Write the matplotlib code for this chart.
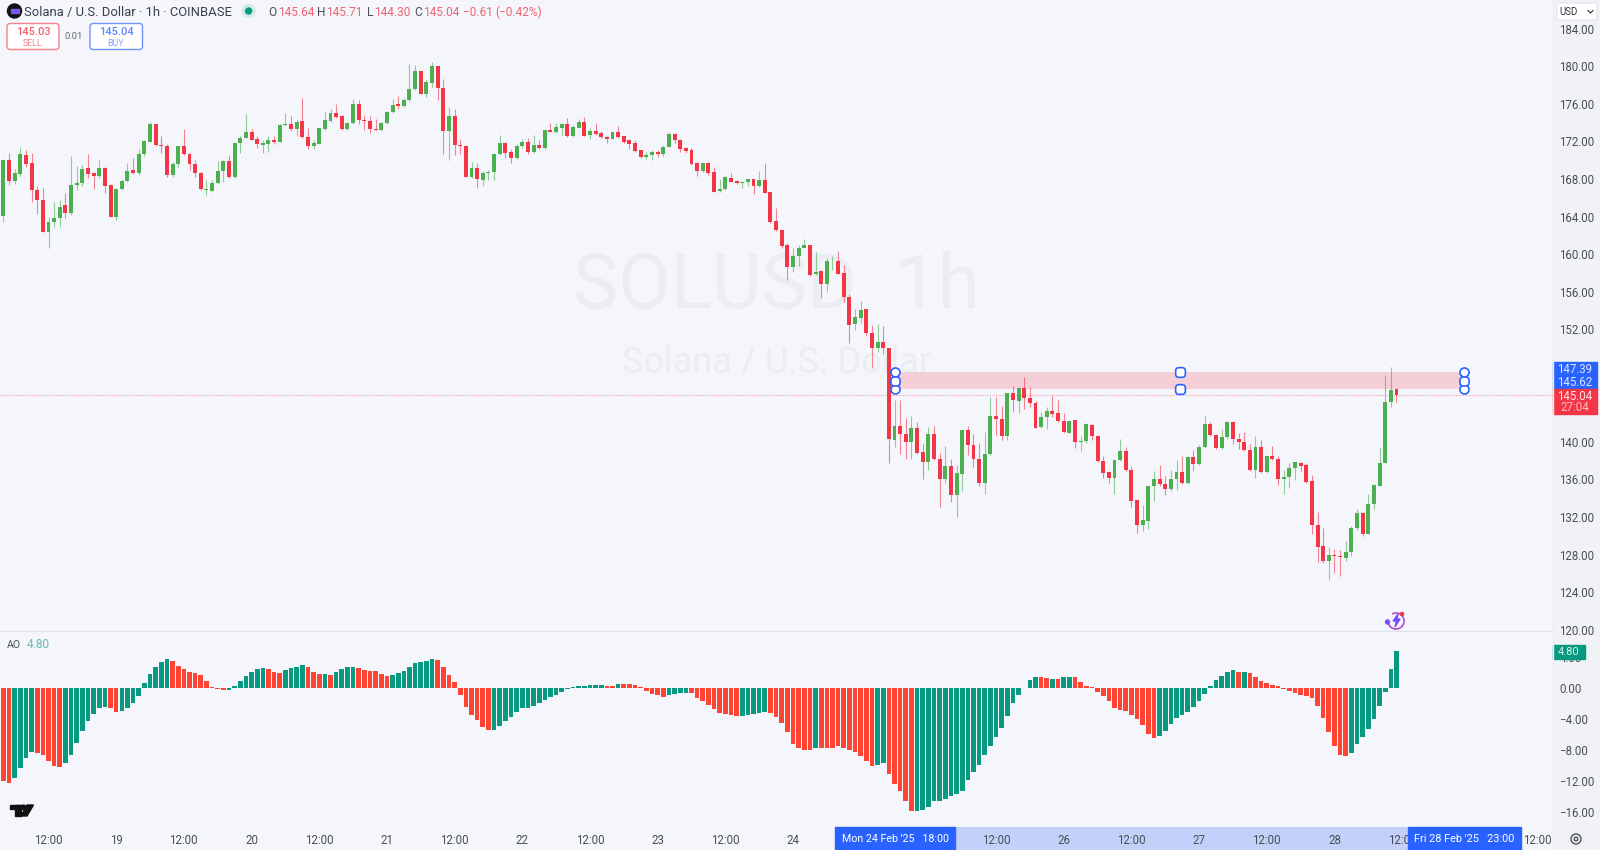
import matplotlib
matplotlib.use("Agg")
import matplotlib.pyplot as plt
from matplotlib.patches import FancyBboxPatch, Rectangle, Circle, Polygon, Arc, BoxStyle

plt.rcParams["font.family"] = ["Roboto", "DejaVu Sans"]

# ---- data -------------------------------------------------------------
opens = [
 164.1,170.0,167.8,168.5,170.6,169.7,166.8,165.8,162.3,163.4,
 163.8,165.2,164.4,167.4,167.6,169.2,168.6,168.3,169.2,167.4,
 163.9,166.9,167.8,169.0,168.6,170.7,171.9,173.9,171.6,171.5,
 168.4,169.6,171.5,170.7,169.6,168.6,166.8,166.7,167.6,168.9,
 169.9,168.2,171.8,172.4,173.0,172.3,171.6,171.7,172.2,171.9,
 173.8,173.9,173.3,174.2,172.5,171.5,171.7,173.3,174.2,175.0,
 174.7,173.3,174.0,176.0,174.3,174.2,173.3,173.2,174.0,175.1,
 176.0,175.8,176.4,177.6,179.5,177.1,178.2,180.0,177.7,173.1,
 174.7,171.6,171.5,168.2,169.2,167.9,168.6,168.7,170.7,171.8,
 170.9,170.2,171.5,171.9,170.9,171.6,171.3,173.2,173.0,173.4,
 173.85,172.6,173.4,174.1,172.7,173.15,172.85,172.5,172.3,172.95,
 172.55,172.1,171.8,171.1,170.3,170.5,170.85,170.7,171.45,172.8,
 172.15,171.3,171.1,169.65,168.8,169.65,168.75,166.7,166.9,168.1,
 167.8,167.6,167.65,167.95,167.2,167.85,166.65,163.55,162.6,160.95,
 158.65,159.75,160.7,160.95,157.85,158.2,156.8,159.25,159.25,157.95,
 155.45,152.55,153.2,154.1,151.6,149.95,150.65,149.95,140.25,141.7,
 140.85,139.95,141.45,138.9,137.9,140.85,138.15,136.1,137.45,134.35,
 136.6,141.25,139.7,138.15,135.65,138.7,142.8,142.45,140.65,145.2,
 144.4,145.7,144.7,144.1,141.55,142.6,143.25,143.05,142.25,140.9,
 142.3,139.95,140.05,141.8,140.65,138.0,136.75,136.2,138.1,139.0,
 137.0,133.8,131.1,131.6,135.25,136.0,135.5,135.0,136.0,136.75,
 135.6,138.35,137.6,139.45,141.9,140.75,139.3,140.5,142.15,140.3,
 140.0,139.15,137.0,139.5,136.75,138.55,138.15,136.0,136.3,137.2,
 137.75,137.5,135.8,131.15,128.9,127.3,127.95,127.9,127.6,128.3,
 130.8,132.4,130.2,133.35,135.35,137.75,144.2,145.64]
highs = [
 170.1,170.8,169.1,171.4,171.1,170.8,167.2,167.0,164.0,165.5,
 165.8,166.5,170.4,169.4,169.5,170.7,168.7,170.0,169.3,167.5,
 167.0,168.0,169.7,170.2,171.2,172.2,174.1,173.9,172.6,171.7,
 169.8,171.5,173.3,170.8,170.0,168.7,167.9,167.9,169.9,170.0,
 170.6,171.8,172.6,174.9,173.3,172.6,172.2,172.6,172.6,173.9,
 175.0,174.7,174.3,176.6,173.4,172.2,173.4,175.1,175.4,176.0,
 174.8,174.1,176.5,176.4,174.8,174.7,174.4,174.1,175.2,176.5,
 176.8,176.6,180.2,180.1,179.5,178.5,180.5,180.0,178.6,175.7,
 175.5,172.3,171.6,169.8,169.7,168.9,169.0,170.8,172.7,171.9,
 171.2,171.7,172.3,172.4,172.7,172.2,173.2,174.0,174.0,174.0,
 174.45,173.75,174.35,174.55,173.4,174.0,173.15,172.6,173.0,173.6,
 172.6,172.2,172.1,171.1,170.9,171.1,171.1,171.6,173.0,172.85,
 172.3,171.4,171.3,169.85,169.85,169.85,169.3,167.95,168.3,168.65,
 167.9,167.7,168.05,168.05,168.8,169.65,166.65,164.95,162.6,161.15,
 160.6,161.0,161.65,160.95,160.25,158.3,159.55,159.8,160.35,158.85,
 155.7,154.1,155.0,154.2,152.45,152.55,152.35,150.0,144.45,144.45,
 142.5,142.75,142.15,139.9,141.6,141.7,138.8,139.55,138.15,137.55,
 141.25,141.7,140.85,139.85,141.0,144.75,144.75,143.85,145.25,145.95,
 145.7,146.9,145.8,144.4,143.2,143.75,144.9,144.45,143.05,142.35,
 142.35,140.6,142.05,141.9,140.75,138.45,136.85,138.1,140.3,139.5,
 137.45,133.8,133.3,135.3,136.85,137.55,136.4,137.0,138.1,138.5,
 138.5,139.15,139.7,142.75,142.15,140.85,141.4,142.25,142.25,140.9,
 141.1,139.75,140.6,140.15,138.6,139.55,138.45,137.0,137.8,137.9,
 137.85,137.7,136.5,132.5,130.85,128.85,128.55,128.5,129.4,131.0,
 132.9,132.5,134.5,135.5,139.5,147.1,147.95,145.71]
lows = [
 163.4,167.4,167.5,168.3,169.3,165.5,164.3,162.3,160.7,162.9,
 162.9,163.8,164.2,166.8,167.2,168.1,166.9,168.1,166.5,163.9,
 163.6,166.8,167.7,168.5,168.4,170.4,171.9,171.5,170.8,168.2,
 168.2,169.3,170.5,169.0,168.2,166.8,166.3,166.6,167.5,167.7,
 168.1,168.1,170.8,172.4,172.2,171.3,170.8,170.9,171.7,171.9,
 173.6,173.1,172.6,172.4,171.2,171.2,171.7,173.2,174.1,174.5,
 173.2,173.2,173.9,173.9,173.2,172.9,173.2,173.1,173.9,175.0,
 175.4,175.7,176.3,177.5,177.0,176.7,177.8,176.4,170.7,170.0,
 170.6,170.7,168.2,168.1,167.0,167.2,167.9,167.9,170.6,170.2,
 169.7,170.1,171.3,170.7,170.8,171.2,171.2,173.0,172.9,172.7,
 172.5,172.5,173.4,172.55,172.25,172.7,172.4,171.8,172.25,172.4,
 171.8,171.2,170.85,170.2,170.1,170.0,170.3,170.4,171.4,171.8,
 170.85,170.75,169.5,168.35,168.75,168.4,166.65,166.65,166.8,167.65,
 167.5,167.0,167.25,166.35,167.1,166.55,163.3,162.5,160.6,157.25,
 158.05,158.75,160.6,157.65,157.75,155.3,156.0,158.3,157.85,154.95,
 150.55,151.9,152.6,151.3,147.9,149.6,149.4,137.8,139.5,138.7,
 138.15,138.15,138.7,136.0,137.0,138.1,133.05,135.6,133.55,131.95,
 134.8,138.6,137.35,135.25,134.45,138.6,140.75,140.15,140.25,143.2,
 143.1,143.5,143.7,141.45,141.45,141.35,142.7,142.15,140.9,140.9,
 139.4,139.0,139.9,140.2,137.9,136.2,135.65,134.5,138.0,136.9,
 133.1,130.35,130.55,130.7,133.75,135.3,134.3,134.8,134.9,135.5,
 135.5,136.85,137.5,139.3,140.6,139.2,139.2,140.3,139.8,139.2,
 139.0,136.95,136.2,136.65,136.7,138.05,135.4,134.5,135.05,135.9,
 136.85,135.65,130.2,127.2,127.05,125.3,126.0,125.7,127.35,127.85,
 130.6,130.0,130.2,132.8,135.35,137.7,143.7,144.30]
closes = [
 170.0,167.8,168.6,170.7,169.6,166.8,165.8,162.3,163.4,163.8,
 165.0,164.4,167.4,167.6,169.1,168.5,168.3,169.2,167.3,163.9,
 166.9,167.8,168.9,168.6,170.7,172.0,173.9,171.6,171.5,168.4,
 169.6,171.5,170.7,169.6,168.6,166.9,166.9,167.6,168.9,169.9,
 168.2,171.8,172.4,173.0,172.2,171.7,171.8,172.2,171.9,173.8,
 173.9,173.3,174.1,172.5,171.5,171.8,173.4,174.3,175.0,174.6,
 173.3,174.0,176.0,174.3,174.2,173.3,173.2,174.0,175.1,175.9,
 175.8,176.4,177.6,179.5,177.1,178.3,180.0,177.7,173.1,174.7,
 171.6,171.5,168.2,169.2,168.0,168.6,168.7,170.7,171.8,170.8,
 170.2,171.5,171.9,170.9,171.6,171.3,173.2,173.0,173.5,173.85,
 172.6,173.5,174.1,172.6,173.15,172.8,172.5,172.3,172.95,172.5,
 171.9,171.7,171.0,170.3,170.55,170.85,170.7,171.45,172.8,172.1,
 171.2,171.0,169.55,168.8,169.65,168.6,166.65,166.95,168.2,167.7,
 167.6,167.7,167.95,167.2,167.85,166.55,163.45,162.55,160.85,158.65,
 159.8,160.7,160.95,157.8,158.1,156.8,159.25,159.3,157.9,155.45,
 152.5,153.25,154.05,151.55,149.95,150.65,149.95,140.27,141.7,140.85,
 139.95,141.45,138.8,137.9,140.85,138.15,136.1,137.45,134.35,136.65,
 141.25,139.7,138.15,135.65,138.7,142.8,142.45,140.65,145.25,144.45,
 145.7,144.7,144.1,141.5,142.6,143.25,143.0,142.25,141.0,142.25,
 139.95,140.1,141.9,140.65,138.0,136.65,136.2,138.1,139.0,137.0,
 133.75,131.1,131.7,135.25,136.0,135.5,135.0,136.0,136.75,135.6,
 138.35,137.6,139.5,141.9,140.7,139.3,140.5,142.15,140.3,140.0,
 139.1,137.0,139.5,136.75,138.55,138.15,136.0,136.3,137.2,137.85,
 137.45,135.75,131.1,128.85,127.3,127.95,127.8,127.7,128.3,130.85,
 132.4,130.15,133.4,135.4,137.75,144.2,145.55,145.04]

ao_values = [
 -12.0,-12.26,-11.6,-10.3,-8.95,-8.17,-8.4,-8.6,-9.4,-10.0,
 -10.1,-9.7,-8.65,-7.1,-5.5,-4.2,-3.3,-2.6,-2.4,-2.6,
 -3.1,-2.9,-2.6,-1.95,-1.0,0.65,1.8,2.8,3.4,3.75,
 3.5,2.9,2.5,2.1,1.95,1.7,1.0,0.2,-0.1,-0.2,
 -0.2,0.35,1.0,1.6,2.1,2.5,2.6,2.5,2.05,2.0,
 2.3,2.6,2.8,3.0,2.7,2.05,1.8,1.8,1.7,2.05,
 2.45,2.7,2.8,2.65,2.4,2.2,2.2,1.85,1.6,1.7,
 1.95,2.25,2.7,3.2,3.45,3.5,3.8,3.65,2.8,1.7,
 0.8,-0.85,-2.45,-3.45,-4.1,-4.95,-5.4,-5.35,-4.85,-4.2,
 -3.65,-3.0,-2.6,-2.5,-2.3,-1.95,-1.5,-1.15,-0.85,-0.45,
 -0.1,0.1,0.25,0.35,0.4,0.45,0.45,0.35,0.35,0.6,
 0.6,0.6,0.45,0.15,-0.4,-0.75,-0.9,-1.15,-0.9,-0.75,
 -0.65,-0.55,-0.65,-1.2,-1.7,-2.15,-2.7,-3.2,-3.35,-3.45,
 -3.55,-3.55,-3.4,-3.3,-3.2,-3.1,-3.15,-3.65,-4.45,-5.7,
 -7.2,-7.75,-7.95,-7.95,-7.65,-7.65,-7.65,-7.75,-7.5,-7.65,
 -7.95,-8.25,-8.7,-9.35,-10.0,-9.9,-9.6,-11.0,-12.35,-13.25,
 -14.6,-15.9,-15.8,-15.7,-15.35,-14.6,-14.6,-14.3,-13.85,-13.7,
 -13.25,-11.85,-10.85,-9.9,-8.65,-7.5,-6.25,-5.15,-3.55,-1.85,
 -0.85,0.05,1.05,1.45,1.4,1.3,1.25,1.25,1.4,1.45,
 1.4,0.75,0.3,0.1,-0.45,-1.05,-1.6,-2.5,-2.8,-2.95,
 -3.4,-4.0,-4.8,-5.95,-6.45,-6.15,-5.45,-4.65,-3.9,-3.45,
 -3.1,-2.45,-1.7,-0.75,0.3,1.05,1.6,2.15,2.3,2.05,
 2.15,2.0,1.4,0.95,0.7,0.4,0.3,-0.05,-0.3,-0.55,
 -0.9,-1.05,-1.2,-2.35,-3.8,-5.7,-7.5,-8.6,-8.7,-8.4,
 -7.2,-6.3,-5.2,-4.0,-2.35,-0.45,2.45,4.80]

# runs of falling (R) / rising (G) AO bars, in bar order
ao_runs = [("R",2),("G",4),("R",5),("G",8),("R",2),("G",9),("R",10),("G",7),("R",3),
           ("G",4),("R",3),("G",1),("R",1),("G",4),("R",6),("G",8),("R",10),("G",20),
           ("R",2),("G",1),("R",8),("G",4),("R",9),("G",5),("R",8),("G",1),("R",10),
           ("G",2),("R",5),("G",22),("R",2),("G",1),("R",1),("G",2),("R",15),("G",14),
           ("R",1),("G",1),("R",18),("G",9)]

price_ticks = [120,124,128,132,136,140,152,156,160,164,168,172,176,180,184]
ao_ticks = [4, 0, -4, -8, -12, -16]
time_ticks = [8, 20, 32, 44, 56, 68, 80, 92, 104, 116, 128, 140,
              176, 188, 200, 212, 224, 236, 248, 272]
time_labels = ["12:00", "19", "12:00", "20", "12:00", "21", "12:00", "22", "12:00", "23",
               "12:00", "24", "12:00", "26", "12:00", "27", "12:00", "28",
               "12:00", "12:00"]
zone_top, zone_bottom = 147.39, 145.62
zone_start, zone_end = 158, 259
last_price = 145.04

assert len(opens) == len(highs) == len(lows) == len(closes) == len(ao_values) == 248
ao_dirs = [d for d, n in ao_runs for _ in range(n)]
assert len(ao_dirs) == 248

# ---- style ------------------------------------------------------------
BG = "#F5F6FC"
PANEL = "#F1F2F6"
UP = "#4CAF50"
DOWN = "#F23645"
AO_UP = "#089981"
AO_DOWN = "#FF4433"
BLUE = "#2962FF"
TXT = "#4A4E59"

W, H = 1600, 850
RIGHT, PANE, STRIP = 1553, 631, 827

fig = plt.figure(figsize=(16, 8.5), dpi=100, facecolor=PANEL)

def make_axes(top, bottom, z):
    ax = fig.add_axes([0, 1 - bottom / H, RIGHT / W, (bottom - top) / H], facecolor=BG, zorder=z)
    for s in ax.spines.values():
        s.set_visible(False)
    ax.set_xlim(-0.6, 274.75)
    return ax

ax = make_axes(0, PANE, 2)
ax_ao = make_axes(PANE, STRIP, 3)
ax_strip = make_axes(STRIP, H, 1)

# ---- price pane -------------------------------------------------------
ax.set_ylim(119.86, 187.06)
ax.text(0.5, 0.545, "SOLUSD  1h", transform=ax.transAxes, ha="center", va="center",
        fontsize=55, color="#ECEDF3", zorder=0)
ax.text(0.5, 0.4258, "Solana / U.S. Dollar", transform=ax.transAxes, ha="center", va="center",
        fontsize=26, color="#ECEDF3", zorder=0)

idx = list(range(len(opens)))
colors = [UP if c >= o else DOWN for o, c in zip(opens, closes)]
ax.vlines(idx, lows, highs, colors=colors, linewidth=0.8, alpha=0.6, zorder=2)
ax.bar(idx, [abs(c - o) for o, c in zip(opens, closes)],
       bottom=[min(o, c) for o, c in zip(opens, closes)],
       width=0.7, color=colors, linewidth=0, zorder=3)

ax.axhline(last_price, color="#F8A0A8", linewidth=0.8, linestyle=(0, (1, 1)), zorder=1)
ax.add_patch(Rectangle((zone_start, zone_bottom), zone_end - zone_start, zone_top - zone_bottom,
                       facecolor=DOWN, alpha=0.2, edgecolor="none", zorder=4))

zone_mid = (zone_top + zone_bottom) / 2
zone_center = (zone_start + zone_end) / 2 + 0.2
round_sq = BoxStyle("Round", pad=0, rounding_size=0.35)(-0.5, -0.5, 1, 1, 1)
for xh in (zone_start, zone_end):
    ax.plot([xh, xh], [zone_top, zone_bottom], ls="none", marker="o", ms=6.5, mfc="white",
            mec=BLUE, mew=1.2, zorder=6)
    ax.plot([xh], [zone_mid], ls="none", marker=round_sq, ms=6.5, mfc="white", mec=BLUE, mew=1.2, zorder=6)
ax.plot([zone_center, zone_center], [zone_top, zone_bottom], ls="none", marker=round_sq, ms=7,
        mfc="white", mec=BLUE, mew=1.2, zorder=6)

ax.set_yticks(price_ticks)
ax.set_yticklabels([f"{v:.2f}" for v in price_ticks], fontsize=8.3, color=TXT)
ax.yaxis.tick_right()
ax.tick_params(axis="y", length=0, pad=4.5)
ax.set_xticks([])

# ---- AO pane ----------------------------------------------------------
ax_ao.set_ylim(-17.9, 7.39)
ax_ao.bar(idx, ao_values, width=0.82, color=[AO_UP if d == "G" else AO_DOWN for d in ao_dirs],
          linewidth=0)
ax_ao.set_yticks(ao_ticks)
ax_ao.set_yticklabels([f"{v:.2f}" if v >= 0 else f"\u2212{-v:.2f}" for v in ao_ticks],
                      fontsize=8.3, color=TXT)
ax_ao.yaxis.tick_right()
ax_ao.tick_params(axis="y", length=0, pad=4.5)
ax_ao.set_xticks(time_ticks)
ax_ao.set_xticklabels(time_labels, fontsize=8.3, color=TXT)
ax_ao.tick_params(axis="x", length=0, pad=5)

# ---- time strip -------------------------------------------------------
ax_strip.set_ylim(0, 1)
ax_strip.set_xticks([])
ax_strip.set_yticks([])
ax_strip.axvspan(zone_start, zone_end, color="#C3D1FA", linewidth=0)

# ---- chart chrome, placed in figure pixels ----------------------------
ov = fig.add_axes([0, 0, 1, 1], zorder=10, facecolor="none")
ov.set_xlim(0, W)
ov.set_ylim(H, 0)
ov.axis("off")

ov.plot([0, RIGHT], [PANE, PANE], color="#E0E3EB", lw=1)
ov.plot([RIGHT, RIGHT], [0, H], color="#ECEDF1", lw=1)

# header
ov.add_patch(Circle((14.5, 11), 7, color="#111318"))
ov.add_patch(Rectangle((10.5, 9), 8, 4, color="#7B5BE6"))
ov.text(24.5, 11, "Solana / U.S. Dollar \u00b7 1h \u00b7 COINBASE", fontsize=9.35, color="#3A3E49",
        va="center_baseline")
ov.add_patch(Circle((248.6, 11), 6.5, color="#D5EBE8"))
ov.add_patch(Circle((248.6, 11), 3, color="#089981"))
RED_TXT = "#F0636E"
for xt, s, col in [(268.6, "O", TXT), (278, "145.64", RED_TXT), (317.5, "H", TXT), (326.4, "145.71", RED_TXT),
                   (366.7, "L", TXT), (374, "144.30", RED_TXT), (414, "C", TXT), (423, "145.04", RED_TXT),
                   (463, "\u22120.61", RED_TXT), (495, "(\u22120.42%)", RED_TXT)]:
    ov.text(xt, 11, s, fontsize=8.6, color=col, va="center_baseline")

def box(x0, y0, x1, y1, fc, ec, r=3, lw=1.0):
    ov.add_patch(FancyBboxPatch((x0 + r, y0 + r), x1 - x0 - 2 * r, y1 - y0 - 2 * r,
                                boxstyle=f"round,pad={r},rounding_size={r}",
                                fc=fc, ec=ec, lw=lw))

box(7, 23.5, 59, 49.5, "white", "#F7828C")
box(90, 23.5, 142.5, 49.5, "white", "#6E93FF")
ov.text(33, 31.5, "145.03", fontsize=8, color="#F0636E", ha="center", va="center", fontweight="medium")
ov.text(33, 43.2, "SELL", fontsize=6.3, color="#F7828C", ha="center", va="center")
ov.text(74, 36, "0.01", fontsize=6.8, color="#6A6D78", ha="center", va="center")
ov.text(116, 31.5, "145.04", fontsize=8, color="#5F87FF", ha="center", va="center", fontweight="medium")
ov.text(116, 43.2, "BUY", fontsize=6.3, color="#86A5FF", ha="center", va="center")

# currency selector
box(1557, 3, 1597, 20, "white", "#E6E8EE", r=2)
ov.text(1569, 11.5, "USD", fontsize=7, color="#30333C", ha="center", va="center")
ov.plot([1588, 1590.5, 1593], [10.5, 13, 10.5], color="#30333C", lw=0.8)

# price tags
ov.add_patch(Rectangle((1553, 362), 44, 27, color=BLUE))
ov.add_patch(Rectangle((1553, 389), 44, 24.5, color=DOWN))
ov.text(1575, 369, "147.39", fontsize=8.3, color="#DCE6FF", ha="center", va="center")
ov.text(1575, 382, "145.62", fontsize=8.3, color="#DCE6FF", ha="center", va="center")
ov.text(1575, 396, "145.04", fontsize=8.3, color="#FFE3E6", ha="center", va="center")
ov.text(1575, 407, "27:04", fontsize=8.3, color="#FFB9BF", ha="center", va="center")

# AO legend, tag
ov.text(7, 645, "AO", fontsize=7.6, color=TXT, va="center")
ov.text(27, 645, "4.80", fontsize=8.6, color="#66BBAE", va="center")
ov.add_patch(Rectangle((1553, 645), 32, 14, color=AO_UP))
ov.text(1569, 652, "4.80", fontsize=8, color="#D6F0EB", ha="center", va="center")

# TradingView mark
ov.add_patch(Rectangle((9.5, 805), 11, 4, color="#111"))
ov.add_patch(Rectangle((15, 805), 5.5, 11, color="#111"))
ov.add_patch(Circle((23.5, 807.3), 2.2, color="#111"))
ov.add_patch(Polygon([[27, 805], [33.5, 805], [27, 816], [21, 816]], closed=True, color="#111"))

# lightning badge
ov.add_patch(Arc((1396, 621), 16, 16, theta1=-120, theta2=190, color="#B14FD0", lw=1.2))
ov.add_patch(Polygon([[1398, 614], [1393, 621], [1396.5, 621], [1395, 627], [1400, 619], [1397, 619]],
                     closed=True, color="#7C4DFF"))
ov.add_patch(Circle((1387.5, 622), 2, color="#7C4DFF"))
ov.add_patch(Circle((1402, 614), 1.6, color="#F23645"))

# crosshair date labels
ov.add_patch(Rectangle((835, 827), 120, 23, color=BLUE))
ov.text(895, 839, "Mon 24 Feb '25   18:00", fontsize=7.7, color="white", ha="center", va="center")
ov.add_patch(Rectangle((1408, 827), 113, 23, color=BLUE))
ov.text(1464.5, 839, "Fri 28 Feb '25   23:00", fontsize=7.8, color="white", ha="center", va="center")

# settings icon
ov.add_patch(Circle((1576, 839), 5, fc="none", ec="#50535E", lw=1))
ov.add_patch(Circle((1576, 839), 1.8, fc="none", ec="#50535E", lw=1))

fig.savefig("out.png", dpi=100, facecolor=fig.get_facecolor())
